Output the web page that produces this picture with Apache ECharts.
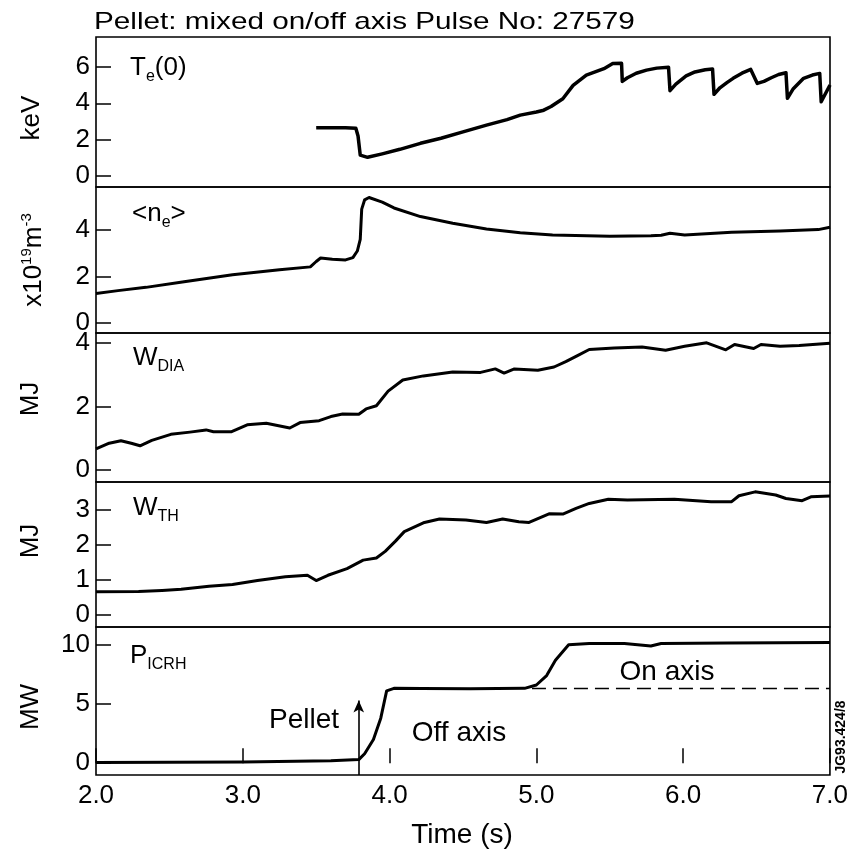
<!DOCTYPE html>
<html>
<head>
<meta charset="utf-8">
<title>Pellet: mixed on/off axis, pulse 27579</title>
<script src="https://cdn.jsdelivr.net/npm/echarts@6.0.0/dist/echarts.min.js"></script>
<style>
  html, body { margin: 0; padding: 0; background: #fff; }
  #chart { width: 851px; height: 855px; }
</style>
</head>
<body>
<div id="chart"></div>
<script>
// values, time in s

// Te(0), keV
const teTime = [3.50, 3.60, 3.70, 3.77, 3.785, 3.80, 3.85, 3.95, 4.07, 4.21, 4.35, 4.50, 4.66, 4.80, 4.89, 5.00, 5.05, 5.10, 5.18, 5.25, 5.34, 5.46, 5.52, 5.58,
  5.585, 5.62, 5.68, 5.75, 5.82, 5.90, 5.91, 5.95, 6.02, 6.08, 6.15, 6.20, 6.21, 6.25, 6.30, 6.34, 6.40, 6.46, 6.505, 6.55, 6.60, 6.65, 6.70,
  6.71, 6.75, 6.82, 6.88, 6.93, 6.94, 7.00];
const teVal = [2.65, 2.66, 2.65, 2.63, 2.2, 1.15, 1.03, 1.22, 1.47, 1.80, 2.08, 2.43, 2.80, 3.10, 3.35, 3.52, 3.62, 3.82, 4.25, 4.98, 5.55, 5.90, 6.18, 6.20,
  5.20, 5.40, 5.65, 5.82, 5.93, 5.98, 4.69, 5.05, 5.50, 5.72, 5.84, 5.88, 4.49, 4.85, 5.15, 5.37, 5.65, 5.86, 5.09, 5.20, 5.40, 5.58, 5.68,
  4.27, 4.80, 5.37, 5.55, 5.64, 4.08, 5.00];

// <ne>, 1e19 m^-3
const neTime = [2.0, 2.15, 2.34, 2.6, 2.93, 3.25, 3.46, 3.50, 3.53, 3.61, 3.70, 3.75, 3.78, 3.80, 3.81, 3.83, 3.86, 3.95, 4.03, 4.21, 4.43, 4.66, 4.89,
  5.11, 5.50, 5.78, 5.85, 5.91, 6.01, 6.33, 6.66, 6.92, 7.0];
const neVal = [1.28, 1.40, 1.54, 1.78, 2.08, 2.30, 2.42, 2.65, 2.80, 2.75, 2.72, 2.82, 3.1, 3.6, 4.9, 5.3, 5.40, 5.2, 4.95, 4.58, 4.29, 4.05, 3.89,
  3.79, 3.74, 3.76, 3.78, 3.86, 3.79, 3.91, 3.96, 4.02, 4.12];

// W_DIA, MJ
const wdiaTime = [2.0, 2.09, 2.17, 2.24, 2.30, 2.38, 2.51, 2.64, 2.75, 2.80, 2.92, 3.03, 3.16, 3.32, 3.39, 3.52, 3.60, 3.68, 3.79, 3.84, 3.91, 3.99,
  4.09, 4.23, 4.43, 4.62, 4.72, 4.78, 4.85, 5.01, 5.12, 5.20, 5.28, 5.36, 5.53, 5.72, 5.88, 6.01, 6.16, 6.29, 6.35, 6.48, 6.53, 6.66, 6.79, 7.0];
const wdiaVal = [0.66, 0.84, 0.92, 0.84, 0.76, 0.93, 1.12, 1.19, 1.26, 1.20, 1.20, 1.42, 1.47, 1.32, 1.49, 1.55, 1.68, 1.76, 1.75, 1.92, 2.02, 2.48,
  2.83, 2.96, 3.08, 3.07, 3.18, 3.05, 3.18, 3.14, 3.24, 3.41, 3.60, 3.79, 3.84, 3.87, 3.77, 3.89, 4.0, 3.78, 3.95, 3.82, 3.95, 3.89, 3.92, 3.99];

// W_TH, MJ
const wthTime = [2.0, 2.29, 2.45, 2.58, 2.77, 2.93, 3.10, 3.29, 3.44, 3.50, 3.58, 3.71, 3.82, 3.91, 3.97, 4.04, 4.10, 4.23, 4.34, 4.52, 4.66, 4.77,
  4.88, 4.95, 5.09, 5.18, 5.27, 5.36, 5.49, 5.62, 5.94, 6.19, 6.33, 6.38, 6.49, 6.63, 6.70, 6.81, 6.87, 7.0];
const wthVal = [0.66, 0.67, 0.70, 0.73, 0.82, 0.87, 0.98, 1.09, 1.13, 0.98, 1.13, 1.32, 1.56, 1.62, 1.81, 2.10, 2.37, 2.62, 2.73, 2.70, 2.63, 2.73,
  2.65, 2.63, 2.88, 2.87, 3.03, 3.17, 3.29, 3.27, 3.29, 3.22, 3.22, 3.39, 3.50, 3.41, 3.31, 3.25, 3.36, 3.38];

// P_ICRH, MW
const picrhTime = [2.0, 3.0, 3.6, 3.79, 3.83, 3.89, 3.94, 3.98, 4.03, 4.22, 4.55, 4.92, 5.0, 5.07, 5.13, 5.22, 5.36, 5.6, 5.78, 5.85, 6.3, 7.0];
const picrhVal = [0.05, 0.1, 0.2, 0.3, 0.8, 2.0, 3.8, 6.1, 6.32, 6.3, 6.28, 6.32, 6.6, 7.4, 8.7, 10.0, 10.1, 10.1, 9.9, 10.1, 10.15, 10.2];
// off-axis level carried on as a dashed line
const offAxisTime = [4.97, 7.0];
const offAxisVal = [6.3, 6.3];
// pellet injection time and arrow top
const pelletTime = 3.79;
const pelletArrow = [-1, 5.3];

// tick values per panel
const teTicks = [0, 2, 4, 6];
const neTicks = [0, 2, 4];
const wdiaTicks = [0, 2, 4];
const wthTicks = [0, 1, 2, 3];
const picrhTicks = [0, 5, 10];

const FONT = '"Liberation Sans", Arial, Helvetica, sans-serif';

function zip(t, v) {
  return t.map((x, i) => [x, v[i]]);
}

// panel boxes (px) and value ranges
const panels = [
  {top: 37, height: 150, min: -0.6, max: 7.64, ticks: teTicks},
  {top: 187, height: 146, min: -0.42, max: 5.85, ticks: neTicks},
  {top: 333, height: 149, min: -0.38, max: 4.31, ticks: wdiaTicks},
  {top: 482, height: 145, min: -0.34, max: 3.78, ticks: wthTicks},
  {top: 627, height: 148, min: -1.0, max: 11.5, ticks: picrhTicks}
];

let grid = panels.map(p => ({
  left: 96, width: 734, top: p.top, height: p.height,
  show: true, borderColor: '#000', borderWidth: 1.6
}));

let xAxis = panels.map((p, i) => {
  let last = i === panels.length - 1;
  return {
    type: 'value', gridIndex: i, min: 2, max: 7, interval: 1,
    axisLine: {show: false},
    axisTick: {show: last, inside: true, length: 15, lineStyle: {color: '#000', width: 1.5}},
    axisLabel: {show: last, formatter: v => v.toFixed(1), fontSize: 26, fontFamily: FONT, color: '#000', margin: 8},
    splitLine: {show: false}
  };
});

let yAxis = panels.map((p, i) => ({
  type: 'value', gridIndex: i, min: p.min, max: p.max,
  axisLine: {show: false},
  axisTick: {inside: true, length: 15, customValues: p.ticks, lineStyle: {color: '#000', width: 1.5}},
  axisLabel: {customValues: p.ticks, fontSize: 26, fontFamily: FONT, color: '#000', margin: 6},
  splitLine: {show: false}
}));

function trace(i, t, v, width) {
  return {
    type: 'line', xAxisIndex: i, yAxisIndex: i, data: zip(t, v),
    showSymbol: false, silent: true,
    lineStyle: {color: '#000', width: width, join: 'round'}
  };
}

let series = [
  trace(0, teTime, teVal, 3.5),
  trace(1, neTime, neVal, 3),
  trace(2, wdiaTime, wdiaVal, 3),
  trace(3, wthTime, wthVal, 3),
  trace(4, picrhTime, picrhVal, 3),
  {
    type: 'line', xAxisIndex: 4, yAxisIndex: 4, data: zip(offAxisTime, offAxisVal),
    showSymbol: false, silent: true,
    lineStyle: {color: '#000', width: 1.6, type: [14, 7]},
    markLine: {
      silent: true, symbol: ['none', 'arrow'], symbolSize: [8, 12],
      label: {show: false},
      lineStyle: {color: '#000', width: 1.6, type: 'solid'},
      data: [[{coord: [pelletTime, pelletArrow[0]]}, {coord: [pelletTime, pelletArrow[1]]}]]
    }
  }
];

// text styles for the overlay labels
const main = {fontSize: 26, fontFamily: FONT, fill: '#000', lineHeight: 34};
const sub = {fontSize: 16, fontFamily: FONT, fill: '#000', lineHeight: 12, verticalAlign: 'bottom'};
const sup = {fontSize: 15, fontFamily: FONT, fill: '#000', lineHeight: 18, verticalAlign: 'top'};

function label(x, y, text) {
  return {
    type: 'text', x: x, y: y, silent: true,
    style: {text: text, rich: {m: main, s: sub, p: sup}, fill: '#000', align: 'left', verticalAlign: 'top'}
  };
}

function plain(x, y, text, size, extra) {
  return Object.assign({
    type: 'text', x: x, y: y, silent: true,
    style: {text: text, font: size + 'px ' + FONT, fill: '#000', align: 'center', verticalAlign: 'middle'}
  }, extra || {});
}

let graphic = [
  // title (the original lettering is wide)
  {
    type: 'text', x: 94, y: 22, scaleX: 1.237, silent: true,
    style: {text: 'Pellet: mixed on/off axis Pulse No: 27579', font: '24px ' + FONT, fill: '#000', align: 'left', verticalAlign: 'middle'}
  },
  // panel labels
  label(130, 51, '{m|T}{s|e}{m|(0)}'),
  label(132, 197, '{m|<n}{s|e}{m|>}'),
  label(133, 341, '{m|W}{s|DIA}'),
  label(133, 491, '{m|W}{s|TH}'),
  label(130, 639, '{m|P}{s|ICRH}'),
  // y axis names
  plain(32, 118, 'keV', 26, {rotation: Math.PI / 2}),
  {
    type: 'text', x: 34, y: 260, rotation: Math.PI / 2, silent: true,
    style: {
      text: '{m|x10}{p|19}{m|m}{p|-3}',
      rich: {m: Object.assign({}, main, {lineHeight: 30}), p: sup},
      fill: '#000', align: 'center', verticalAlign: 'middle'
    }
  },
  plain(31, 399, 'MJ', 26, {rotation: Math.PI / 2}),
  plain(31, 541, 'MJ', 26, {rotation: Math.PI / 2}),
  plain(31, 707, 'MW', 26, {rotation: Math.PI / 2}),
  // annotations
  plain(304, 720, 'Pellet', 28),
  plain(459, 733, 'Off axis', 28),
  plain(667, 672, 'On axis', 28),
  plain(462, 835, 'Time (s)', 28),
  {
    type: 'text', x: 841, y: 737, rotation: Math.PI / 2, silent: true,
    style: {text: 'JG93.424/8', font: 'bold 14px ' + FONT, fill: '#000', align: 'center', verticalAlign: 'middle'}
  }
];

let option = {
  animation: false,
  backgroundColor: '#fff',
  grid: grid,
  xAxis: xAxis,
  yAxis: yAxis,
  series: series,
  graphic: graphic
};

let chart = echarts.init(document.getElementById('chart'), null, {renderer: 'canvas'});
chart.setOption(option);
</script>
</body>
</html>
